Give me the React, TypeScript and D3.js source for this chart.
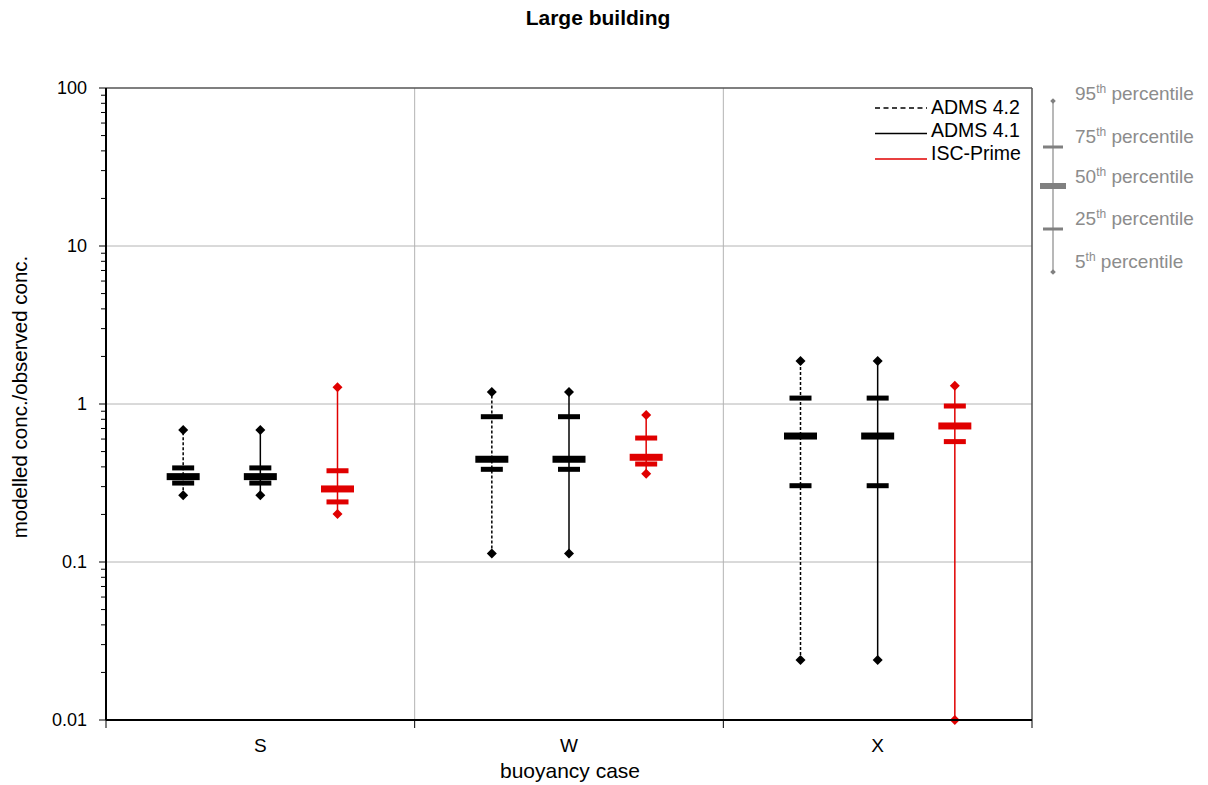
import React from "react";
import * as d3 from "d3";

// buoyancy cases on the x axis
const categories = ["S", "W", "X"];
const seriesNames = ["ADMS 4.2", "ADMS 4.1", "ISC-Prime"];

// modelled/observed ratio, per case: [5th, 25th, 50th, 75th, 95th percentile]
const adms42 = [
  [0.265, 0.316, 0.347, 0.394, 0.684],
  [0.113, 0.386, 0.447, 0.831, 1.19],
  [0.024, 0.304, 0.627, 1.09, 1.87],
];
const adms41 = [
  [0.265, 0.316, 0.347, 0.394, 0.684],
  [0.113, 0.386, 0.447, 0.831, 1.19],
  [0.024, 0.304, 0.627, 1.09, 1.87],
];
const iscPrime = [
  [0.201, 0.24, 0.29, 0.378, 1.275],
  [0.362, 0.417, 0.46, 0.609, 0.852],
  [0.01, 0.578, 0.726, 0.971, 1.306],
];

const yTicks = [0.01, 0.1, 1, 10, 100];
const yTickLabels = ["0.01", "0.1", "1", "10", "100"];
const keyLabels = ["95", "75", "50", "25", "5"];

const W = 1208;
const H = 785;
const margin = { top: 88, right: 176, bottom: 65, left: 106 };
const font = "'Liberation Sans', Arial, sans-serif";

const seriesStyle: Record<string, { color: string; dash?: string; legendDash?: string }> = {
  "ADMS 4.2": { color: "#000", dash: "3,2", legendDash: "5,3.5" },
  "ADMS 4.1": { color: "#000" },
  "ISC-Prime": { color: "#e00000" },
};
const seriesData: Record<string, number[][]> = {
  "ADMS 4.2": adms42,
  "ADMS 4.1": adms41,
  "ISC-Prime": iscPrime,
};

const diamond = d3.symbol(d3.symbolSquare, 50)();
const smallDiamond = d3.symbol(d3.symbolSquare, 16)();

export default function App() {
  const x0 = d3.scaleBand<string>().domain(categories).range([margin.left, W - margin.right]).padding(0);
  const x1 = d3.scalePoint<string>().domain(seriesNames).range([0, x0.bandwidth()]).padding(1);
  const y = d3.scaleLog().domain([0.01, 100]).range([H - margin.bottom, margin.top]);

  const left = margin.left;
  const right = W - margin.right;
  const top = margin.top;
  const bottom = H - margin.bottom;

  const minorTicks: number[] = [];
  for (let d = 0.01; d < 100; d *= 10) {
    for (let k = 2; k <= 9; k++) minorTicks.push(d * k);
  }

  const boundaries = categories.slice(1).map((c) => x0(c)!);

  // percentile key (legend graphic on the right)
  const keyX = 1053;
  const keyY = { p95: 101, p75: 147, p50: 186, p25: 229, p5: 272 };
  const keyBaselines = [100, 143, 183, 225, 268];

  return (
    <svg width={W} height={H} style={{ position: "absolute", left: 0, top: 0, background: "#fff" }} fontFamily={font}>
      <text x={598} y={25} textAnchor="middle" fontWeight="bold" fontSize={21}>
        Large building
      </text>

      {/* horizontal gridlines */}
      {yTicks.slice(1, -1).map((t) => (
        <line key={t} x1={left} x2={right} y1={y(t)} y2={y(t)} stroke="#b4b4b4" strokeWidth={1} />
      ))}
      {/* vertical gridlines between cases */}
      {boundaries.map((bx) => (
        <line key={bx} x1={bx} x2={bx} y1={top} y2={bottom} stroke="#b4b4b4" strokeWidth={1} />
      ))}
      {/* top and right frame */}
      <line x1={left} x2={right} y1={top} y2={top} stroke="#555" strokeWidth={1.5} />
      <line x1={right} x2={right} y1={top} y2={bottom} stroke="#555" strokeWidth={1.5} />

      {/* boxes */}
      {seriesNames.map((s) => {
        const st = seriesStyle[s];
        return categories.map((c, i) => {
          const [p5, p25, p50, p75, p95] = seriesData[s][i];
          const cx = x0(c)! + x1(s)!;
          return (
            <g key={s + c}>
              <line x1={cx} x2={cx} y1={y(p5)} y2={y(p95)} stroke={st.color} strokeWidth={1.5} strokeDasharray={st.dash} />
              {[p25, p75].map((v, j) => (
                <rect key={j} x={cx - 11} y={y(v) - 2.5} width={22} height={5} fill={st.color} />
              ))}
              <rect x={cx - 16.5} y={y(p50) - 3.5} width={33} height={7} fill={st.color} />
              {[p5, p95].map((v, j) => (
                <path key={"d" + j} d={diamond} transform={`translate(${cx},${y(v)}) rotate(45)`} fill={st.color} />
              ))}
            </g>
          );
        });
      })}

      {/* y axis */}
      <line x1={left} x2={left} y1={top} y2={bottom} stroke="#000" strokeWidth={2} />
      {minorTicks.map((t) => (
        <line key={t} x1={left - 5} x2={left} y1={y(t)} y2={y(t)} stroke="#000" strokeWidth={1} />
      ))}
      {yTicks.map((t, i) => (
        <g key={t}>
          <line x1={left - 7} x2={left} y1={y(t)} y2={y(t)} stroke="#000" strokeWidth={1} />
          <text x={87} y={y(t)} dy="0.36em" textAnchor="end" fontSize={18}>
            {yTickLabels[i]}
          </text>
        </g>
      ))}
      <text transform={`translate(27,397) rotate(-90)`} textAnchor="middle" fontSize={20.5}>
        modelled conc./observed conc.
      </text>

      {/* x axis */}
      <line x1={left} x2={right} y1={bottom} y2={bottom} stroke="#000" strokeWidth={2} />
      {[left, ...boundaries, right].map((bx) => (
        <line key={"t" + bx} x1={bx} x2={bx} y1={bottom} y2={bottom + 8} stroke="#000" strokeWidth={1} />
      ))}
      {categories.map((c) => (
        <text key={c} x={x0(c)! + x0.bandwidth() / 2} y={752} textAnchor="middle" fontSize={19}>
          {c}
        </text>
      ))}
      <text x={570} y={778} textAnchor="middle" fontSize={21}>
        buoyancy case
      </text>

      {/* series legend */}
      {seriesNames.map((s, i) => {
        const st = seriesStyle[s];
        const ly = [108, 133.5, 159][i];
        const tb = [114, 137, 160][i];
        return (
          <g key={"leg" + s}>
            <line x1={875} x2={927} y1={ly} y2={ly} stroke={st.color} strokeWidth={1.5} strokeDasharray={st.legendDash} />
            <text x={931} y={tb} fontSize={19.5}>
              {s}
            </text>
          </g>
        );
      })}

      {/* percentile key */}
      <line x1={keyX} x2={keyX} y1={keyY.p95} y2={keyY.p5} stroke="#a0a0a0" strokeWidth={1.5} />
      <rect x={keyX - 10} y={keyY.p75 - 1.5} width={20} height={3} fill="#808080" />
      <rect x={keyX - 10} y={keyY.p25 - 1.5} width={20} height={3} fill="#808080" />
      <rect x={keyX - 13} y={keyY.p50 - 3} width={26} height={6} fill="#808080" />
      <path d={smallDiamond} transform={`translate(${keyX},${keyY.p95}) rotate(45)`} fill="#808080" />
      <path d={smallDiamond} transform={`translate(${keyX},${keyY.p5}) rotate(45)`} fill="#808080" />
      {keyLabels.map((p, i) => (
        <text key={"k" + p} x={1075} y={keyBaselines[i]} fontSize={19} fill="#8c8c8c">
          {p}
          <tspan fontSize={12} dy={-7}>th</tspan>
          <tspan dy={7}> percentile</tspan>
        </text>
      ))}
    </svg>
  );
}
